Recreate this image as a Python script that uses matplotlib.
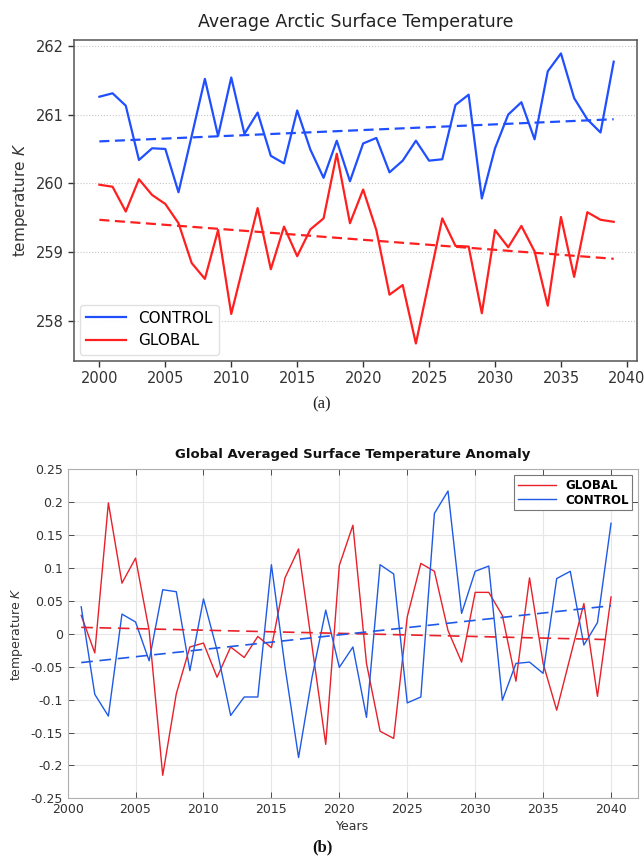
import numpy as np
import matplotlib
matplotlib.use("Agg")
import matplotlib.pyplot as plt

# ---- (a) Average Arctic surface temperature, 2000-2039 ----
years_a = list(range(2000, 2040))
arctic_control = [261.26, 261.31, 261.13, 260.34, 260.51, 260.50, 259.87, 260.69,
                  261.52, 260.69, 261.54, 260.72, 261.03, 260.40, 260.29, 261.06,
                  260.49, 260.08, 260.62, 260.03, 260.58, 260.66, 260.16, 260.33,
                  260.62, 260.33, 260.35, 261.14, 261.29, 259.78, 260.51, 261.00,
                  261.18, 260.64, 261.63, 261.89, 261.24, 260.93, 260.74, 261.77]
arctic_global = [259.98, 259.95, 259.59, 260.06, 259.83, 259.70, 259.42, 258.84,
                 258.61, 259.32, 258.10, 258.87, 259.64, 258.75, 259.37, 258.94,
                 259.33, 259.49, 260.43, 259.42, 259.91, 259.32, 258.38, 258.52,
                 257.67, 258.58, 259.49, 259.09, 259.08, 258.11, 259.32, 259.07,
                 259.38, 259.01, 258.22, 259.51, 258.64, 259.58, 259.47, 259.44]
yticks_a = [258, 259, 260, 261, 262]
xticks_a = [2000, 2005, 2010, 2015, 2020, 2025, 2030, 2035, 2040]

# ---- (b) Global averaged surface temperature anomaly, 2001-2040 ----
years_b = list(range(2001, 2041))
anom_global = [0.028, -0.029, 0.199, 0.077, 0.115, 0.005, -0.215, -0.091,
               -0.020, -0.014, -0.066, -0.020, -0.036, -0.004, -0.021, 0.085,
               0.129, -0.020, -0.168, 0.104, 0.165, -0.045, -0.148, -0.159,
               0.026, 0.107, 0.095, 0.005, -0.043, 0.063, 0.063, 0.028,
               -0.072, 0.085, -0.045, -0.116, -0.035, 0.046, -0.095, 0.056]
anom_control = [0.041, -0.092, -0.125, 0.030, 0.018, -0.041, 0.067, 0.064,
                -0.056, 0.053, -0.025, -0.124, -0.096, -0.096, 0.105, -0.050,
                -0.188, -0.065, 0.036, -0.051, -0.020, -0.127, 0.105, 0.091,
                -0.105, -0.096, 0.183, 0.217, 0.031, 0.095, 0.103, -0.101,
                -0.045, -0.043, -0.060, 0.084, 0.095, -0.017, 0.017, 0.168]
yticks_b = [-0.25, -0.2, -0.15, -0.1, -0.05, 0, 0.05, 0.1, 0.15, 0.2, 0.25]
ytick_labels_b = ["-0.25", "-0.2", "-0.15", "-0.1", "-0.05", "0",
                  "0.05", "0.1", "0.15", "0.2", "0.25"]
xticks_b = [2000, 2005, 2010, 2015, 2020, 2025, 2030, 2035, 2040]

BLUE_A, RED_A = "#1f4fff", "#ff1f1f"
BLUE_B, RED_B = "#1f5ae6", "#e8202a"


def trend(x, y):
    x = np.asarray(x, float)
    k, b = np.polyfit(x, np.asarray(y, float), 1)
    return x, k * x + b


fig = plt.figure(figsize=(6.44, 8.67), dpi=100)

# ---------------- panel (a) ----------------
ax1 = fig.add_axes([0.115, 0.584, 0.874, 0.370])
ax1.plot(years_a, arctic_control, color=BLUE_A, lw=1.6, label="CONTROL")
ax1.plot(years_a, arctic_global, color=RED_A, lw=1.6, label="GLOBAL")
tx, ty = trend(years_a, arctic_control)
ax1.plot(tx, ty, color=BLUE_A, lw=1.6, ls=(0, (4.5, 2.5)))
tx, ty = trend(years_a, arctic_global)
ax1.plot(tx, ty, color=RED_A, lw=1.6, ls=(0, (4.5, 2.5)))
ax1.set_xlim(1998.08, 2040.76)
ax1.set_ylim(257.42, 262.087)
ax1.set_xticks(xticks_a)
ax1.set_yticks(yticks_a)
ax1.grid(axis="y", color="#c8c8c8", ls=":", lw=0.8)
ax1.tick_params(labelsize=10.5, colors="#333333", length=4, width=1)
for s in ax1.spines.values():
    s.set_color("#555555")
    s.set_linewidth(1.1)
ax1.set_title("Average Arctic Surface Temperature", fontsize=12.5,
              color="#222222", pad=9)
ax1.set_ylabel("temperature $K$", fontsize=11, color="#333333")
leg1 = ax1.legend(loc="lower left", fontsize=11, handlelength=2.6,
                  borderaxespad=0.4, framealpha=0.9, edgecolor="#dddddd")
fig.text(0.5, 0.533, "(a)", ha="center", va="center", fontsize=12,
         family="Liberation Serif", color="#222222")

# ---------------- panel (b) ----------------
ax2 = fig.add_axes([0.105, 0.0792, 0.886, 0.3795])
ax2.plot(years_b, anom_global, color=RED_B, lw=1.0, label="GLOBAL")
ax2.plot(years_b, anom_control, color=BLUE_B, lw=1.0, label="CONTROL")
tx, ty = trend(years_b, anom_global)
ax2.plot(tx, ty, color=RED_B, lw=1.2, ls=(0, (7, 4)))
tx, ty = trend(years_b, anom_control)
ax2.plot(tx, ty, color=BLUE_B, lw=1.2, ls=(0, (7, 4)))
ax2.set_xlim(2000, 2042)
ax2.set_ylim(-0.25, 0.25)
ax2.set_xticks(xticks_b)
ax2.set_yticks(yticks_b)
ax2.set_yticklabels(ytick_labels_b)
ax2.grid(True, color="#e6e6e6", lw=0.8)
ax2.set_axisbelow(True)
ax2.tick_params(direction="in", top=True, right=True, labelsize=9,
                colors="#333333", length=4, width=0.6)
for s in ax2.spines.values():
    s.set_color("#b0b0b0")
    s.set_linewidth(0.8)
ax2.set_title("Global Averaged Surface Temperature Anomaly", fontsize=9.5,
              fontweight="bold", color="#111111", pad=8)
ax2.set_ylabel("temperature $K$", fontsize=9, color="#333333")
ax2.set_xlabel("Years", fontsize=9, color="#333333", labelpad=3)
leg2 = ax2.legend(loc="upper right", fontsize=8.5, handlelength=3.2,
                  borderaxespad=0.5, fancybox=False, framealpha=1,
                  edgecolor="#777777", borderpad=0.3, labelspacing=0.15,
                  prop={"weight": "bold", "size": 8.5})
leg2.get_frame().set_linewidth(0.8)
fig.text(0.5, 0.013, "(b)", ha="center", va="bottom", fontsize=12,
         fontweight="bold", family="Liberation Serif", color="#111111")

fig.savefig("out.png", dpi=100)
